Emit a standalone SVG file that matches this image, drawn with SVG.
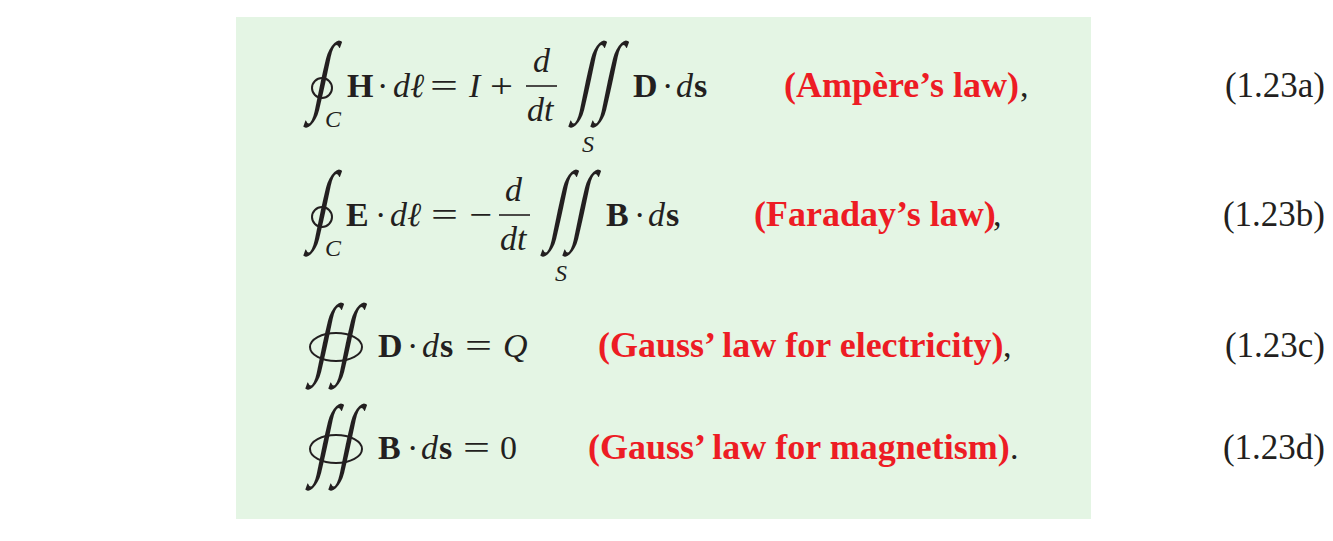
<svg xmlns="http://www.w3.org/2000/svg" width="1333" height="541" viewBox="0 0 1333 541">
<style>
.m{font-family:"Liberation Serif","Times New Roman",serif;font-size:34px;fill:#231f20}
.b{font-weight:bold}
.i{font-style:italic}
.sub{font-family:"Liberation Serif","Times New Roman",serif;font-size:24px;font-style:italic;fill:#231f20}
.int{font-family:"Liberation Serif","Times New Roman",serif;font-size:89px;fill:#231f20}
.red{font-family:"Liberation Serif","Times New Roman",serif;font-size:36px;font-weight:bold;fill:#ed1c24}
.num{font-family:"Liberation Serif","Times New Roman",serif;font-size:35px;fill:#231f20;text-anchor:end}
.ring{fill:none;stroke:#231f20;stroke-width:2}
.bar{stroke:#231f20;stroke-width:1.6}
</style>
<rect x="236" y="17" width="855" height="502" fill="#e4f5e4"/>
<g id="eq-a">
<text class="int" transform="translate(311,104) skewX(-12) scale(0.62,1)">∫</text>
<circle class="ring" cx="322" cy="88" r="10"/>
<text class="sub" x="325" y="127">C</text>
<text class="m b" x="347" y="97">H</text>
<text class="m" x="377" y="97">·</text>
<text class="m i" x="393" y="97">dℓ</text>
<text class="m" x="430" y="97" textLength="28" lengthAdjust="spacingAndGlyphs">=</text>
<text class="m i" x="469" y="97">I</text>
<text class="m" x="490" y="97" textLength="23" lengthAdjust="spacingAndGlyphs">+</text>
<text class="m i" x="533" y="72">d</text>
<line class="bar" x1="526" y1="86" x2="557" y2="86"/>
<text class="m i" x="527" y="121">dt</text>
<text class="int" transform="translate(576,104) skewX(-12) scale(0.62,1)">∫</text>
<text class="int" transform="translate(598,104) skewX(-12) scale(0.62,1)">∫</text>
<text class="sub" x="582" y="152">S</text>
<text class="m b" x="633" y="97">D</text>
<text class="m" x="662" y="97">·</text>
<text class="m" x="676" y="97"><tspan class="i">d</tspan><tspan class="b" dx="1">s</tspan></text>
<text class="red" x="784" y="97">(Ampère’s law)</text>
<text class="m" x="1020" y="97">,</text>
<text class="num" x="1325" y="97">(1.23a)</text>
</g>
<g id="eq-b">
<text class="int" transform="translate(311,233) skewX(-12) scale(0.62,1)">∫</text>
<circle class="ring" cx="322" cy="217" r="10"/>
<text class="sub" x="325" y="256">C</text>
<text class="m b" x="346" y="226">E</text>
<text class="m" x="375" y="226">·</text>
<text class="m i" x="390" y="226">dℓ</text>
<text class="m" x="431" y="226" textLength="27" lengthAdjust="spacingAndGlyphs">=</text>
<text class="m" x="469" y="226" textLength="23" lengthAdjust="spacingAndGlyphs">−</text>
<text class="m i" x="505" y="201">d</text>
<line class="bar" x1="499" y1="215" x2="530" y2="215"/>
<text class="m i" x="500" y="250">dt</text>
<text class="int" transform="translate(548,233) skewX(-12) scale(0.62,1)">∫</text>
<text class="int" transform="translate(570,233) skewX(-12) scale(0.62,1)">∫</text>
<text class="sub" x="555" y="281">S</text>
<text class="m b" x="606" y="226">B</text>
<text class="m" x="634" y="226">·</text>
<text class="m" x="648" y="226"><tspan class="i">d</tspan><tspan class="b" dx="1">s</tspan></text>
<text class="red" x="754" y="226">(Faraday’s law)</text>
<text class="m" x="993" y="226">,</text>
<text class="num" x="1325" y="226">(1.23b)</text>
</g>
<g id="eq-c">
<text class="int" transform="translate(313,366) skewX(-12) scale(0.62,1)">∫</text>
<text class="int" transform="translate(336,366) skewX(-12) scale(0.62,1)">∫</text>
<ellipse class="ring" cx="336" cy="347" rx="26" ry="14"/>
<text class="m b" x="378" y="357">D</text>
<text class="m" x="407" y="357">·</text>
<text class="m" x="422" y="357"><tspan class="i">d</tspan><tspan class="b" dx="1">s</tspan></text>
<text class="m" x="465" y="357" textLength="27" lengthAdjust="spacingAndGlyphs">=</text>
<text class="m i" x="503" y="357">Q</text>
<text class="red" x="598" y="357">(Gauss’ law for electricity)</text>
<text class="m" x="1003" y="357">,</text>
<text class="num" x="1325" y="357">(1.23c)</text>
</g>
<g id="eq-d">
<text class="int" transform="translate(313,467) skewX(-12) scale(0.62,1)">∫</text>
<text class="int" transform="translate(336,467) skewX(-12) scale(0.62,1)">∫</text>
<ellipse class="ring" cx="336" cy="449" rx="26" ry="14"/>
<text class="m b" x="378" y="459">B</text>
<text class="m" x="407" y="459">·</text>
<text class="m" x="421" y="459"><tspan class="i">d</tspan><tspan class="b" dx="1">s</tspan></text>
<text class="m" x="463" y="459" textLength="27" lengthAdjust="spacingAndGlyphs">=</text>
<text class="m" x="500" y="459">0</text>
<text class="red" x="588" y="459">(Gauss’ law for magnetism)</text>
<text class="m" x="1010" y="459">.</text>
<text class="num" x="1325" y="459">(1.23d)</text>
</g>
</svg>
